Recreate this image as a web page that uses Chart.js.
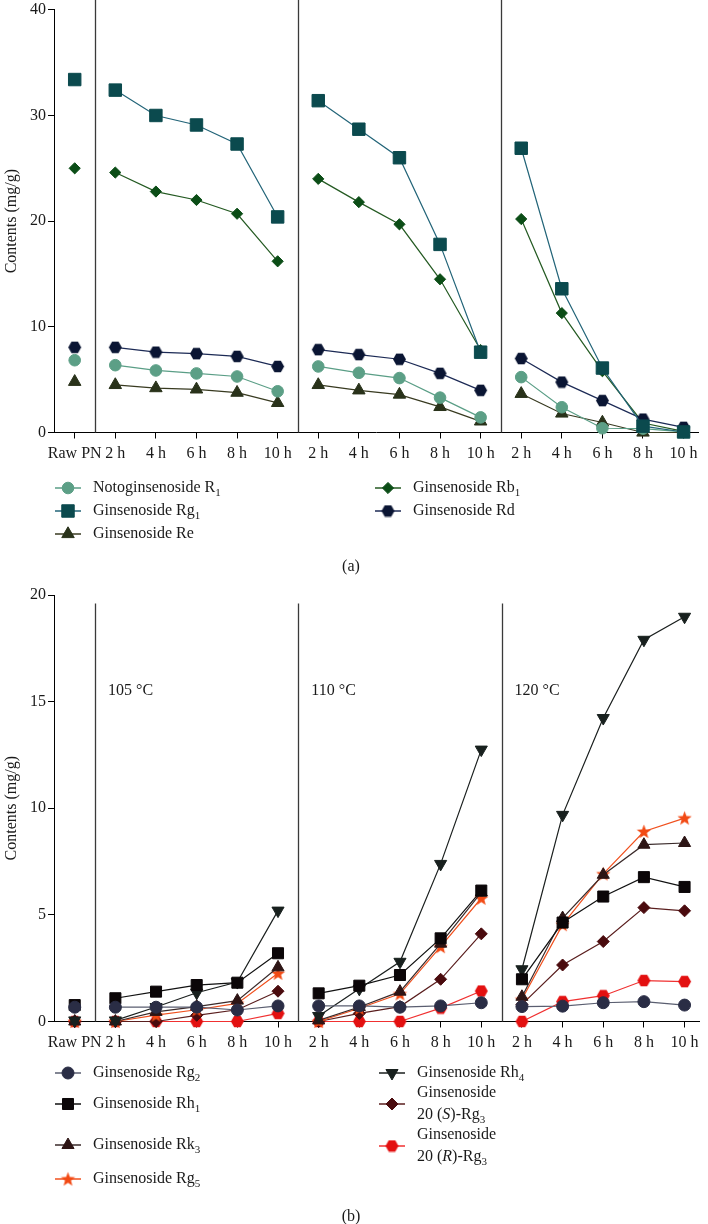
<!DOCTYPE html>
<html><head><meta charset="utf-8">
<script src="https://cdn.jsdelivr.net/npm/chart.js@4.4.1/dist/chart.umd.min.js"></script>
<style>
html,body{margin:0;padding:0;background:#fff;width:708px;height:1224px;overflow:hidden}
.wrap{position:absolute;left:0;width:708px}
#wa{top:0;height:580px}
#wb{top:580px;height:644px}
canvas{display:block}
</style></head><body>
<div class="wrap" id="wa"><canvas id="ca" width="708" height="580"></canvas></div>
<div class="wrap" id="wb"><canvas id="cb" width="708" height="644"></canvas></div>
<script>
// ---------- DATA ----------
const categories = ['Raw PN','2 h','4 h','6 h','8 h','10 h','2 h','4 h','6 h','8 h','10 h','2 h','4 h','6 h','8 h','10 h'];
const groupBreaks = [0, 5, 10];          // line is broken after these category indices
const tempLabels = ['105 °C', '110 °C', '120 °C'];

// Panel (a)
const yTicksA = [0, 10, 20, 30, 40];
const notoR1 = [6.84, 6.37, 5.87, 5.59, 5.30, 3.90, 6.25, 5.65, 5.15, 3.30, 1.43, 5.24, 2.39, 0.40, 0.37, 0.05];
const ginRg1 = [33.4, 32.4, 30.0, 29.1, 27.3, 20.4, 31.4, 28.7, 26.0, 17.8, 7.6, 26.9, 13.6, 6.1, 0.6, 0.05];
const ginRe  = [4.8, 4.5, 4.2, 4.08, 3.77, 2.8, 4.5, 3.99, 3.59, 2.42, 1.05, 3.66, 1.8, 0.95, 0.0, 0.0];
const ginRb1 = [25.0, 24.6, 22.8, 22.0, 20.7, 16.2, 24.0, 21.8, 19.7, 14.5, 7.8, 20.2, 11.3, 5.8, 0.9, 0.1];
const ginRd  = [8.06, 8.06, 7.6, 7.46, 7.2, 6.25, 7.84, 7.37, 6.93, 5.6, 3.99, 7.0, 4.77, 3.02, 1.27, 0.49];

// Panel (b)
const yTicksB = [0, 5, 10, 15, 20];
const ginRg2  = [0.67, 0.67, 0.67, 0.67, 0.54, 0.73, 0.73, 0.73, 0.67, 0.73, 0.88, 0.70, 0.72, 0.88, 0.93, 0.77];
const ginRh1  = [0.77, 1.09, 1.40, 1.71, 1.82, 3.20, 1.32, 1.68, 2.18, 3.90, 6.14, 1.98, 4.64, 5.86, 6.77, 6.31];
const ginRk3  = [0.0, 0.0, 0.45, 0.70, 0.98, 2.54, 0.05, 0.68, 1.40, 3.65, 6.05, 1.16, 4.85, 6.88, 8.29, 8.37];
const ginRg5  = [0.0, 0.0, 0.30, 0.55, 0.85, 2.26, 0.0, 0.62, 1.30, 3.51, 5.78, 1.04, 4.54, 6.92, 8.91, 9.54];
const ginRh4  = [0.05, 0.05, 0.68, 1.35, 1.85, 5.20, 0.26, 1.53, 2.80, 7.39, 12.75, 2.45, 9.69, 14.23, 17.9, 18.98];
const ginSRg3 = [0.0, 0.0, 0.0, 0.29, 0.55, 1.42, 0.0, 0.38, 0.70, 1.98, 4.11, 0.80, 2.65, 3.75, 5.34, 5.19];
const ginRRg3 = [0.0, 0.0, 0.0, 0.0, 0.0, 0.38, 0.0, 0.0, 0.0, 0.63, 1.43, 0.0, 0.93, 1.21, 1.92, 1.87];

// ---------- helpers ----------
const FONT = '"Liberation Serif", "DejaVu Serif", serif';

function buildPoints(values) {
  const pts = [];
  values.forEach((v, i) => {
    pts.push({x: i, y: v});
    if (groupBreaks.includes(i)) pts.push({x: i + 0.5, y: null});
  });
  return pts;
}

function makeHex(color, w) {
  const c = document.createElement('canvas');
  const R = w / 2, h = Math.round(R * Math.sqrt(3)) + 2;
  c.width = w + 2; c.height = h;
  const ctx = c.getContext('2d');
  ctx.fillStyle = color;
  ctx.beginPath();
  for (let k = 0; k < 6; k++) {
    const a = k * Math.PI / 3;
    const px = c.width / 2 + R * Math.cos(a), py = c.height / 2 + R * Math.sin(a);
    k ? ctx.lineTo(px, py) : ctx.moveTo(px, py);
  }
  ctx.closePath(); ctx.fill();
  return c;
}
function makeStar(color, R) {
  const c = document.createElement('canvas');
  c.width = Math.ceil(2 * R) + 2; c.height = Math.ceil(2 * R) + 2;
  const ctx = c.getContext('2d');
  const cx = c.width / 2, cy = c.height / 2 + R * 0.08, r = R * 0.42;
  ctx.fillStyle = color;
  ctx.beginPath();
  for (let k = 0; k < 10; k++) {
    const a = -Math.PI / 2 + k * Math.PI / 5;
    const rr = k % 2 ? r : R;
    const px = cx + rr * Math.cos(a), py = cy + rr * Math.sin(a);
    k ? ctx.lineTo(px, py) : ctx.moveTo(px, py);
  }
  ctx.closePath(); ctx.fill();
  return c;
}

function series(values, lineColor, markColor, style, radius, rotation) {
  return {
    data: buildPoints(values),
    borderColor: lineColor,
    backgroundColor: markColor,
    borderWidth: 1.2,
    pointStyle: style,
    pointRadius: radius,
    pointRotation: rotation || 0,
    pointBackgroundColor: markColor,
    pointBorderColor: markColor,
    pointBorderWidth: 1,
    tension: 0,
    spanGaps: false,
    clip: false
  };
}

function drawRich(ctx, str, x, y, size) {
  const parts = str.split(/(_\{[^}]*\}|\/\{[^}]*\})/).filter(s => s.length);
  let cx = x;
  for (const p of parts) {
    let t = p, dy = 0, font = `${size}px ${FONT}`;
    if (p.startsWith('_{')) { t = p.slice(2, -1); font = `${Math.round(size * 0.66)}px ${FONT}`; dy = size * 0.3; }
    else if (p.startsWith('/{')) { t = p.slice(2, -1); font = `italic ${size}px ${FONT}`; }
    ctx.font = font;
    ctx.fillText(t, cx, y + dy);
    cx += ctx.measureText(t).width;
  }
}

function drawMarker(ctx, ds, x, y) {
  ctx.save();
  ctx.strokeStyle = ds.borderColor; ctx.lineWidth = 1.5;
  ctx.beginPath(); ctx.moveTo(x - 13, y); ctx.lineTo(x + 13, y); ctx.stroke();
  ctx.fillStyle = ds.pointBackgroundColor;
  ctx.strokeStyle = ds.pointBorderColor;
  ctx.lineWidth = ds.pointBorderWidth;
  Chart.helpers.drawPoint(ctx, {pointStyle: ds.pointStyle, rotation: ds.pointRotation, radius: ds.pointRadius, borderWidth: ds.pointBorderWidth}, x, y);
  ctx.restore();
}

const decorPlugin = {
  id: 'decor',
  beforeDatasetsDraw(chart, args, opts) {
    const ctx = chart.ctx, xs = chart.scales.x, ys = chart.scales.y;
    const top = opts.dividerTop === null ? 0 : ys.getPixelForValue(opts.dividerTop);
    ctx.save();
    ctx.strokeStyle = '#3a3a3a'; ctx.lineWidth = 1.3;
    groupBreaks.forEach(i => {
      const px = Math.round(xs.getPixelForValue(i + 0.5)) + 0.5;
      ctx.beginPath(); ctx.moveTo(px, top); ctx.lineTo(px, chart.chartArea.bottom); ctx.stroke();
    });
    if (opts.temps) {
      ctx.fillStyle = '#1a1a1a'; ctx.font = `16px ${FONT}`; ctx.textBaseline = 'middle'; ctx.textAlign = 'left';
      opts.temps.forEach((t, k) => {
        ctx.fillText(t, xs.getPixelForValue(groupBreaks[k] + 0.5) + 13, ys.getPixelForValue(opts.tempY));
      });
    }
    ctx.restore();
  },
  afterDraw(chart, args, opts) {
    const ctx = chart.ctx;
    ctx.save();
    ctx.fillStyle = '#1a1a1a'; ctx.textBaseline = 'middle'; ctx.textAlign = 'left';
    opts.legend.forEach(it => {
      const ds = chart.data.datasets[it.ds];
      drawMarker(ctx, ds, it.mx, it.y);
      ctx.fillStyle = '#1a1a1a';
      const lines = ds.label.split('\n');
      const ys = it.lineY || [it.y];
      lines.forEach((ln, k) => drawRich(ctx, ln, it.tx, ys[k], 16));
    });
    ctx.textAlign = 'center';
    ctx.font = `16px ${FONT}`;
    ctx.fillText(opts.caption.text, opts.caption.x, opts.caption.y);
    ctx.restore();
  }
};

function makeOptions(yMax, yStep, yTickVals, padTop, xHeight, decor) {
  return {
    responsive: false,
    devicePixelRatio: 1,
    animation: false,
    events: [],
    layout: {padding: {top: padTop, left: 0, right: 0, bottom: 0}},
    plugins: {legend: {display: false}, tooltip: {enabled: false}, decor: decor},
    scales: {
      x: {
        type: 'linear',
        min: -0.51, max: 15.36,
        afterBuildTicks(s) { s.ticks = categories.map((c, i) => ({value: i})); },
        afterFit(s) { s.height = xHeight; s.paddingLeft = 0; s.paddingRight = 0; },
        ticks: {
          autoSkip: false, maxRotation: 0, minRotation: 0, padding: 6,
          color: '#1a1a1a', font: {family: FONT, size: 16},
          callback: v => categories[v]
        },
        grid: {display: true, drawOnChartArea: false, drawTicks: true, tickLength: 6, color: '#000', lineWidth: 1},
        border: {display: true, color: '#000', width: 1}
      },
      y: {
        min: 0, max: yMax,
        afterBuildTicks(s) { s.ticks = yTickVals.map(v => ({value: v})); },
        afterFit(s) { s.width = 54; s.paddingTop = 0; s.paddingBottom = 0; },
        ticks: {padding: 2, color: '#1a1a1a', font: {family: FONT, size: 16}},
        grid: {display: true, drawOnChartArea: false, drawTicks: true, tickLength: 6, color: '#000', lineWidth: 1},
        border: {display: true, color: '#000', width: 1},
        title: {display: true, text: 'Contents (mg/g)', color: '#1a1a1a', font: {family: FONT, size: 16}, padding: {top: 2, bottom: 0}}
      }
    }
  };
}

// ---------- Panel (a) ----------
const dsA = [
  Object.assign(series(ginRg1, '#226478', '#0b4a4e', 'rect', 8.8), {label: 'Ginsenoside Rg_{1}'}),
  Object.assign(series(ginRd, '#1c2a55', '#0a1533', makeHex('#0a1533', 13), 6.5), {label: 'Ginsenoside Rd'}),
  Object.assign(series(notoR1, '#5a9e86', '#5c9f86', 'circle', 5.8), {label: 'Notoginsenoside R_{1}'}),
  Object.assign(series(ginRb1, '#245a22', '#0b4d16', 'rectRot', 5.6), {label: 'Ginsenoside Rb_{1}'}),
  Object.assign(series(ginRe, '#383a20', '#29321a', 'triangle', 7.2), {label: 'Ginsenoside Re'})
];
new Chart(document.getElementById('ca'), {
  type: 'line',
  data: {datasets: dsA},
  options: makeOptions(40, 10, yTicksA, 6, 147.5, {
    dividerTop: null,
    legend: [
      {ds: 2, mx: 68, tx: 93, y: 488},
      {ds: 0, mx: 68, tx: 93, y: 511},
      {ds: 4, mx: 68, tx: 93, y: 534},
      {ds: 3, mx: 388, tx: 413, y: 488},
      {ds: 1, mx: 388, tx: 413, y: 511}
    ],
    caption: {text: '(a)', x: 351, y: 567}
  }),
  plugins: [decorPlugin]
});

// ---------- Panel (b) ----------
const dsB = [
  Object.assign(series(ginRg2, '#5a5e70', '#2a2d45', 'circle', 6), {label: 'Ginsenoside Rg_{2}'}),
  Object.assign(series(ginRh1, '#111111', '#0b0608', 'rect', 7.8), {label: 'Ginsenoside Rh_{1}'}),
  Object.assign(series(ginRh4, '#1a1f1e', '#18201e', 'triangle', 7, 180), {label: 'Ginsenoside Rh_{4}'}),
  Object.assign(series(ginRk3, '#3a2a2a', '#2d1515', 'triangle', 7), {label: 'Ginsenoside Rk_{3}'}),
  Object.assign(series(ginRg5, '#f0501e', '#f24a14', makeStar('#f24a14', 7.5), 7), {label: 'Ginsenoside Rg_{5}'}),
  Object.assign(series(ginSRg3, '#5a1e1e', '#4a0b0e', 'rectRot', 6), {label: 'Ginsenoside\n20 (/{S})-Rg_{3}'}),
  Object.assign(series(ginRRg3, '#f03030', '#e31010', makeHex('#e31010', 13), 6.5), {label: 'Ginsenoside\n20 (/{R})-Rg_{3}'})
];
new Chart(document.getElementById('cb'), {
  type: 'line',
  data: {datasets: dsB},
  options: makeOptions(20, 5, yTicksB, 15, 202.5, {
    dividerTop: 19.6,
    temps: tempLabels,
    tempY: 15.5,
    legend: [
      {ds: 0, mx: 68, tx: 93, y: 493},
      {ds: 1, mx: 68, tx: 93, y: 524},
      {ds: 3, mx: 68, tx: 93, y: 565},
      {ds: 4, mx: 68, tx: 93, y: 599},
      {ds: 2, mx: 392, tx: 417, y: 493},
      {ds: 5, mx: 392, tx: 417, y: 524, lineY: [513, 535]},
      {ds: 6, mx: 392, tx: 417, y: 566, lineY: [555, 577]}
    ],
    caption: {text: '(b)', x: 351, y: 637}
  }),
  plugins: [decorPlugin]
});
</script>
</body></html>
